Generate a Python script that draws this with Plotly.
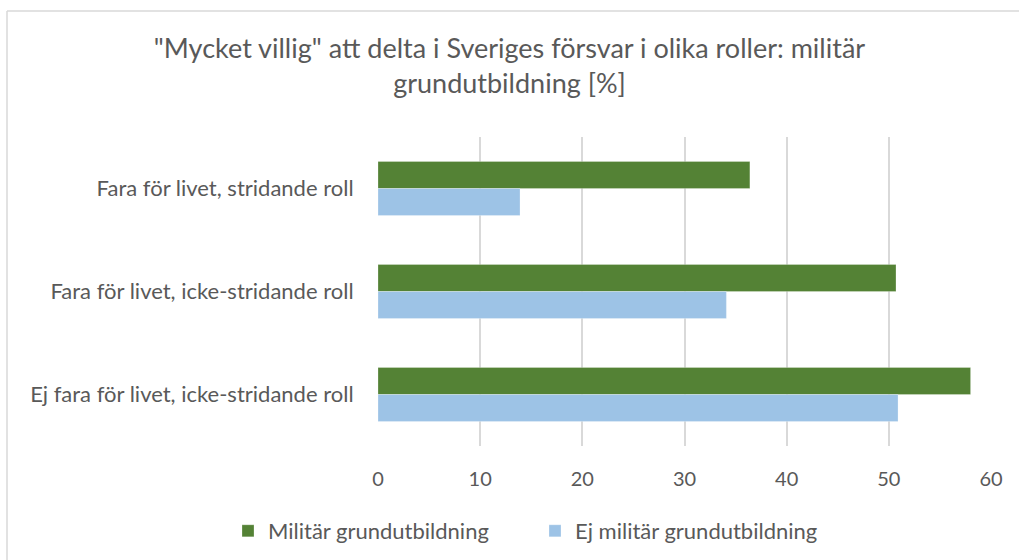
import plotly.graph_objects as go

categories = [
    "Fara för livet, stridande roll",
    "Fara för livet, icke-stridande roll",
    "Ej fara för livet, icke-stridande roll",
]
series_names = ["Militär grundutbildning", "Ej militär grundutbildning"]
militar = [36.4, 50.7, 58.0]
ej_militar = [13.9, 34.1, 50.9]
x_ticks = [0, 10, 20, 30, 40, 50, 60]

title_text = '"Mycket villig" att delta i Sveriges försvar i olika roller: militär<br>grundutbildning [%]'

FONT = "Lato"
TXT = "#595959"
W, H = 1019, 560
L, R, T, B = 378, 1019 - 991, 137, 560 - 446

fig = go.Figure()
fig.add_trace(go.Bar(
    y=categories, x=militar, name=series_names[0], orientation="h", legend="legend",
    marker=dict(color="#548235", line=dict(color="rgba(255,255,255,0.5)", width=0.5)),
))
fig.add_trace(go.Bar(
    y=categories, x=ej_militar, name=series_names[1], orientation="h", legend="legend2",
    marker=dict(color="#9DC3E6", line=dict(color="rgba(255,255,255,0.5)", width=0.5)),
))

pw = W - L - R
ph = H - T - B
def px_x(p):
    return (p - L) / pw
def px_y(p):
    return (H - B - p) / ph

shapes = [
    dict(type="line", xref="paper", yref="paper", x0=px_x(7), x1=px_x(7), y0=px_y(11), y1=px_y(H + 5),
         line=dict(color="#d9d9d9", width=1.5)),
    dict(type="line", xref="paper", yref="paper", x0=px_x(7), x1=px_x(W + 5), y0=px_y(11), y1=px_y(11),
         line=dict(color="#d9d9d9", width=1.5)),
]

legend_common = dict(orientation="h", xref="paper", xanchor="left", yref="paper",
                     y=px_y(531), yanchor="middle", bgcolor="rgba(0,0,0,0)",
                     font=dict(family=FONT, size=22, color=TXT), itemwidth=30)

fig.update_layout(
    width=W, height=H,
    margin=dict(l=L, r=R, t=T, b=B, autoexpand=False),
    paper_bgcolor="white", plot_bgcolor="white",
    barmode="group", bargap=0.476, bargroupgap=0,
    title=dict(text=title_text, x=0.5, xref="container", xanchor="center",
               y=1 - 58 / H, yref="container", yanchor="middle",
               font=dict(family=FONT, size=27, color=TXT)),
    font=dict(family=FONT, size=20, color=TXT),
    showlegend=True,
    legend=dict(x=px_x(228), **legend_common),
    legend2=dict(x=px_x(535), **legend_common),
    shapes=shapes,
)
fig.update_xaxes(range=[0, 60], tickvals=x_ticks, showgrid=True, gridcolor="#d9d9d9", gridwidth=1.5,
                 zeroline=False, showline=False, ticks="outside", ticklen=15,
                 tickcolor="rgba(0,0,0,0)", tickfont=dict(family=FONT, size=20, color=TXT),
                 fixedrange=True)
fig.update_yaxes(autorange="reversed", showgrid=False, zeroline=False, showline=False,
                 ticks="outside", ticklen=19, tickcolor="rgba(0,0,0,0)",
                 tickfont=dict(family=FONT, size=22, color=TXT), fixedrange=True)

fig.write_html("out.html", config={"displayModeBar": False},
               post_script="document.body.style.margin='0';")
